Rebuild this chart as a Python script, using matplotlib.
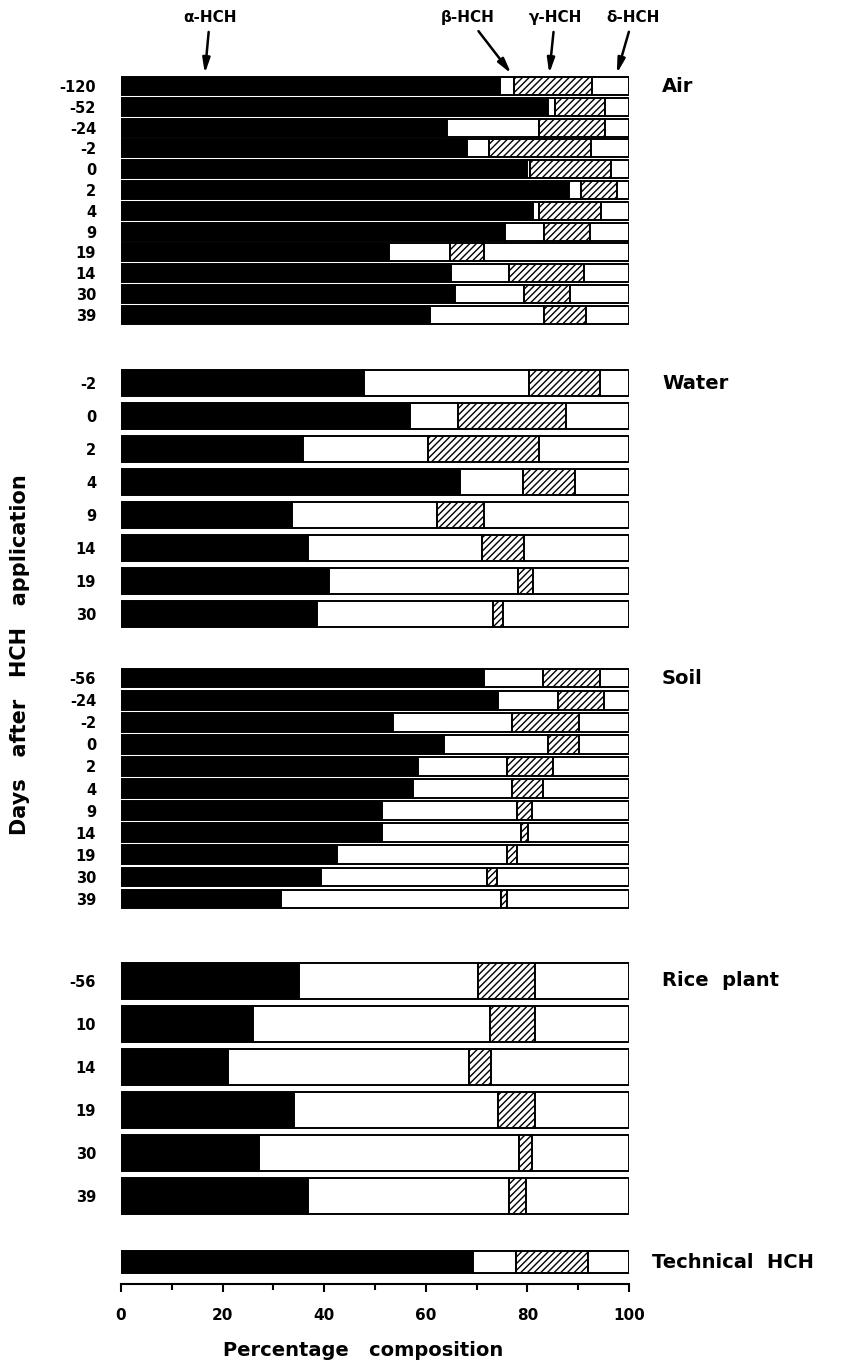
import matplotlib
matplotlib.use("Agg")
import matplotlib.pyplot as plt
import numpy as np

plt.rcParams["font.family"] = ["DejaVu Sans"]
plt.rcParams["font.weight"] = "bold"
plt.rcParams["hatch.linewidth"] = 1.0

W, H = 849, 1368

# composition (%): alpha, beta, gamma, delta
air_days = ["-120", "-52", "-24", "-2", "0", "2", "4", "9", "19", "14", "30", "39"]
air_alpha = [74.6, 84.1, 64.1, 68.1, 80.0, 88.1, 81.1, 75.6, 52.8, 65.0, 65.7, 60.9]
air_beta = [2.7, 1.3, 18.2, 4.3, 0.5, 2.4, 1.1, 7.7, 11.9, 11.3, 13.6, 22.4]
air_gamma = [15.4, 9.9, 13.0, 20.1, 16.0, 7.1, 12.2, 9.1, 6.8, 14.9, 9.1, 8.2]
air_delta = [7.3, 4.7, 4.7, 7.5, 3.5, 2.4, 5.6, 7.6, 28.5, 8.8, 11.6, 8.5]

water_days = ["-2", "0", "2", "4", "9", "14", "19", "30"]
water_alpha = [47.9, 56.9, 35.8, 66.7, 33.6, 36.9, 40.9, 38.6]
water_beta = [32.4, 9.4, 24.7, 12.4, 28.6, 34.1, 37.3, 34.7]
water_gamma = [13.9, 21.3, 21.8, 10.2, 9.2, 8.4, 3.0, 1.9]
water_delta = [5.8, 12.4, 17.7, 10.7, 28.6, 20.6, 18.8, 24.8]

soil_days = ["-56", "-24", "-2", "0", "2", "4", "9", "14", "19", "30", "39"]
soil_alpha = [71.4, 74.3, 53.5, 63.6, 58.4, 57.5, 51.3, 51.3, 42.5, 39.4, 31.5]
soil_beta = [11.7, 11.7, 23.5, 20.5, 17.6, 19.5, 26.6, 27.5, 33.5, 32.6, 43.3]
soil_gamma = [11.1, 9.0, 13.2, 6.1, 9.0, 6.1, 3.0, 1.3, 2.0, 2.0, 1.2]
soil_delta = [5.8, 5.0, 9.8, 9.8, 15.0, 16.9, 19.1, 19.9, 22.0, 26.0, 24.0]

rice_days = ["-56", "10", "14", "19", "30", "39"]
rice_alpha = [35.1, 26.0, 21.1, 34.1, 27.1, 36.8]
rice_beta = [35.2, 46.6, 47.4, 40.2, 51.2, 39.6]
rice_gamma = [11.2, 8.9, 4.4, 7.2, 2.6, 3.4]
rice_delta = [18.5, 18.5, 27.1, 18.5, 19.1, 20.2]

tech_days = [""]
tech_alpha = [69.3]
tech_beta = [8.4]
tech_gamma = [14.3]
tech_delta = [8.0]

fig = plt.figure(figsize=(W / 100, H / 100), dpi=100)

X0, X1 = 121, 629


def make_ax(top, n, spacing):
    h = n * spacing
    return fig.add_axes([X0 / W, 1 - (top + h) / H, (X1 - X0) / W, h / H])


def draw_group(ax, days, a, b, g, d, frac, name, name_dx=0):
    n = len(days)
    y = np.arange(n)
    a, b, g, d = map(np.asarray, (a, b, g, d))
    kw = dict(height=frac, edgecolor="black", linewidth=1.4)
    ax.barh(y, a, left=0, color="black", **kw)
    ax.barh(y, b, left=a, color="white", **kw)
    ax.barh(y, g, left=a + b, color="white", hatch="/////", **kw)
    ax.barh(y, d, left=a + b + g, color="white", **kw)
    ax.set_xlim(0, 100)
    ax.set_ylim(n - 0.5, -0.5)
    ax.set_yticks(y)
    ax.set_yticklabels(days, fontsize=10.5, fontweight="bold")
    ax.tick_params(axis="y", length=0, pad=18)
    ax.set_xticks([])
    for s in ax.spines.values():
        s.set_visible(False)
    ax.text(106.5 + name_dx, 0, name, ha="left", va="center",
            fontsize=14, fontweight="bold", clip_on=False)


ax_air = make_ax(75.6, 12, 20.8)
draw_group(ax_air, air_days, air_alpha, air_beta, air_gamma, air_delta, 0.87, "Air")

ax_water = make_ax(366.5, 8, 33.0)
draw_group(ax_water, water_days, water_alpha, water_beta, water_gamma, water_delta,
           0.8, "Water")

ax_soil = make_ax(667.0, 11, 22.1)
draw_group(ax_soil, soil_days, soil_alpha, soil_beta, soil_gamma, soil_delta,
           0.85, "Soil")

ax_rice = make_ax(959.5, 6, 43.0)
draw_group(ax_rice, rice_days, rice_alpha, rice_beta, rice_gamma, rice_delta,
           0.86, "Rice  plant")

ax_tech = make_ax(1248.0, 1, 28.0)
draw_group(ax_tech, tech_days, tech_alpha, tech_beta, tech_gamma, tech_delta,
           0.82, "Technical  HCH", name_dx=-2)

# x axis under the technical HCH bar
ax_tech.spines["bottom"].set_visible(True)
ax_tech.spines["bottom"].set_linewidth(1.5)
ax_tech.spines["bottom"].set_position(("outward", 6))
ax_tech.set_xticks(np.arange(0, 101, 20))
ax_tech.set_xticks(np.arange(10, 100, 20), minor=True)
ax_tech.set_xticklabels([str(v) for v in range(0, 101, 20)], fontsize=11,
                        fontweight="bold")
ax_tech.tick_params(axis="x", which="major", length=6, width=1.5, pad=11)
ax_tech.tick_params(axis="x", which="minor", length=4, width=1.5)

# isomer labels above the air bars
isomers = [("α-HCH", 16.5, 210), ("β-HCH", 76.8, 468), ("γ-HCH", 84.3, 555),
           ("δ-HCH", 97.6, 633)]
for label, tip, text_px in isomers:
    tip_px = X0 + tip / 100 * (X1 - X0)
    ax_air.annotate(label, xy=(tip, -0.6), xycoords="data",
                    xytext=(text_px - tip_px, 56), textcoords="offset pixels",
                    ha="center", va="center", fontsize=11, fontweight="bold",
                    annotation_clip=False,
                    arrowprops=dict(arrowstyle="-|>,head_length=0.8,head_width=0.2",
                                    color="black", lw=1.8, shrinkA=3, shrinkB=0))

fig.text(363 / W, 1 - 1350 / H, "Percentage   composition", ha="center", va="center",
         fontsize=14, fontweight="bold")
fig.text(20 / W, 1 - 655 / H, "Days   after   HCH   application", ha="center",
         va="center", rotation=90, fontsize=15, fontweight="bold")

fig.savefig("out.png", dpi=100)
